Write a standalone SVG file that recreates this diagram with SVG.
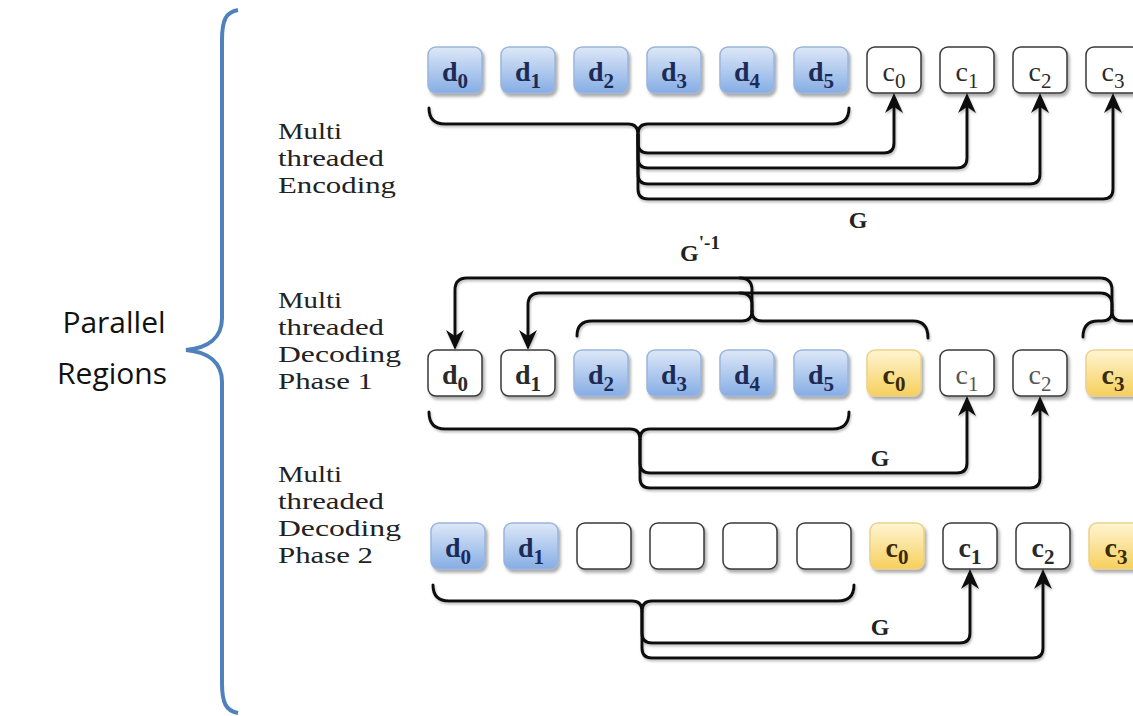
<svg xmlns="http://www.w3.org/2000/svg" width="1133" height="716" viewBox="0 0 1133 716">
  <defs>
    <linearGradient id="blueFill" x1="0" y1="0" x2="0" y2="1">
      <stop offset="0" stop-color="#dde8f7"/>
      <stop offset="1" stop-color="#86ade5"/>
    </linearGradient>
    <linearGradient id="yellowFill" x1="0" y1="0" x2="0" y2="1">
      <stop offset="0" stop-color="#fff5d2"/>
      <stop offset="1" stop-color="#f6cf5c"/>
    </linearGradient>
    <filter id="boxShadow" x="-20%" y="-20%" width="150%" height="160%">
      <feDropShadow dx="2" dy="3" stdDeviation="1.5" flood-color="#444" flood-opacity="0.45"/>
    </filter>
    <filter id="lineShadow" x="-5%" y="-5%" width="110%" height="120%">
      <feDropShadow dx="1" dy="2" stdDeviation="1" flood-color="#777" flood-opacity="0.45"/>
    </filter>
    <marker id="arrow" viewBox="0 0 20 20" refX="13" refY="10" markerWidth="20" markerHeight="20" markerUnits="userSpaceOnUse" orient="auto">
      <path d="M20,10 L0,1 L6,10 L0,19 Z" fill="#111"/>
    </marker>
  </defs>
  <style>
    .box { stroke-width: 1.5; filter: url(#boxShadow); }
    .blue { fill: url(#blueFill); stroke: #9ab5dc; }
    .yellow { fill: url(#yellowFill); stroke: #ecd18a; }
    .white { fill: #ffffff; stroke: #3a3a3a; }
    .lbl { font-family: "Liberation Serif", "Times New Roman", serif; font-size: 28px; text-anchor: middle; }
    .b { font-weight: bold; }
    .sub { font-size: 21px; }
    .tBlue { fill: #1c2b55; }
    .tYellow { fill: #3a2a05; }
    .tDark { fill: #2a2a2a; }
    .tGray { fill: #555555; }
    .wire { fill: none; stroke: #111; stroke-width: 3; stroke-linecap: round; stroke-linejoin: round; }
    .arr { marker-end: url(#arrow); stroke-linecap: butt; }
    .side { font-family: "Liberation Serif", "Times New Roman", serif; font-size: 24px; fill: #222; }
    .g { font-family: "Liberation Serif", "Times New Roman", serif; font-size: 24px; font-weight: bold; fill: #222; text-anchor: middle; }
    .big { font-family: "Open Sans", "Liberation Sans", sans-serif; font-size: 30px; fill: #111; text-anchor: middle; }
  </style>

  <!-- region brace and its caption -->
  <g id="parallel-regions">
    <path d="M238,10 C226,12 222,20 222,40 V318 C222,338 208,348 186,350 C208,352 222,362 222,382 V683 C222,703 226,711 238,713" fill="none" stroke="#4f81bd" stroke-width="4"/>
    <text class="big" x="114" y="333">Parallel</text>
    <text class="big" x="112" y="384">Regions</text>
  </g>

  <!-- row captions -->
  <g id="label-encoding">
    <text class="side" x="278" y="139" textLength="64" lengthAdjust="spacingAndGlyphs">Multi</text>
    <text class="side" x="278" y="166" textLength="106" lengthAdjust="spacingAndGlyphs">threaded</text>
    <text class="side" x="278" y="193" textLength="118" lengthAdjust="spacingAndGlyphs">Encoding</text>
  </g>
  <g id="label-decoding-1">
    <text class="side" x="278" y="308" textLength="64" lengthAdjust="spacingAndGlyphs">Multi</text>
    <text class="side" x="278" y="335" textLength="106" lengthAdjust="spacingAndGlyphs">threaded</text>
    <text class="side" x="278" y="362" textLength="123" lengthAdjust="spacingAndGlyphs">Decoding</text>
    <text class="side" x="278" y="389" textLength="95" lengthAdjust="spacingAndGlyphs">Phase 1</text>
  </g>
  <g id="label-decoding-2">
    <text class="side" x="278" y="482" textLength="64" lengthAdjust="spacingAndGlyphs">Multi</text>
    <text class="side" x="278" y="509" textLength="106" lengthAdjust="spacingAndGlyphs">threaded</text>
    <text class="side" x="278" y="536" textLength="123" lengthAdjust="spacingAndGlyphs">Decoding</text>
    <text class="side" x="278" y="563" textLength="95" lengthAdjust="spacingAndGlyphs">Phase 2</text>
  </g>

  <!-- row 1: encoding (y = 47) -->
  <g id="enc-d0"><rect class="box blue" x="428" y="47" width="54" height="46" rx="8"/><text class="lbl b tBlue" x="455" y="81">d<tspan class="sub" dy="7">0</tspan></text></g>
  <g id="enc-d1"><rect class="box blue" x="501" y="47" width="54" height="46" rx="8"/><text class="lbl b tBlue" x="528" y="81">d<tspan class="sub" dy="7">1</tspan></text></g>
  <g id="enc-d2"><rect class="box blue" x="574" y="47" width="54" height="46" rx="8"/><text class="lbl b tBlue" x="601" y="81">d<tspan class="sub" dy="7">2</tspan></text></g>
  <g id="enc-d3"><rect class="box blue" x="647" y="47" width="54" height="46" rx="8"/><text class="lbl b tBlue" x="674" y="81">d<tspan class="sub" dy="7">3</tspan></text></g>
  <g id="enc-d4"><rect class="box blue" x="720" y="47" width="54" height="46" rx="8"/><text class="lbl b tBlue" x="747" y="81">d<tspan class="sub" dy="7">4</tspan></text></g>
  <g id="enc-d5"><rect class="box blue" x="794" y="47" width="54" height="46" rx="8"/><text class="lbl b tBlue" x="821" y="81">d<tspan class="sub" dy="7">5</tspan></text></g>
  <g id="enc-c0"><rect class="box white" x="867" y="47" width="54" height="46" rx="8"/><text class="lbl tDark" x="894" y="81">c<tspan class="sub" dy="7">0</tspan></text></g>
  <g id="enc-c1"><rect class="box white" x="940" y="47" width="54" height="46" rx="8"/><text class="lbl tDark" x="967" y="81">c<tspan class="sub" dy="7">1</tspan></text></g>
  <g id="enc-c2"><rect class="box white" x="1013" y="47" width="54" height="46" rx="8"/><text class="lbl tDark" x="1040" y="81">c<tspan class="sub" dy="7">2</tspan></text></g>
  <g id="enc-c3"><rect class="box white" x="1086" y="47" width="54" height="46" rx="8"/><text class="lbl tDark" x="1113" y="81">c<tspan class="sub" dy="7">3</tspan></text></g>

  <!-- row 2: decoding phase 1 (y = 350) -->
  <g id="dec1-d0"><rect class="box white" x="428" y="350" width="54" height="46" rx="8"/><text class="lbl b tDark" x="455" y="384">d<tspan class="sub" dy="7">0</tspan></text></g>
  <g id="dec1-d1"><rect class="box white" x="501" y="350" width="54" height="46" rx="8"/><text class="lbl b tDark" x="528" y="384">d<tspan class="sub" dy="7">1</tspan></text></g>
  <g id="dec1-d2"><rect class="box blue" x="574" y="350" width="54" height="46" rx="8"/><text class="lbl b tBlue" x="601" y="384">d<tspan class="sub" dy="7">2</tspan></text></g>
  <g id="dec1-d3"><rect class="box blue" x="647" y="350" width="54" height="46" rx="8"/><text class="lbl b tBlue" x="674" y="384">d<tspan class="sub" dy="7">3</tspan></text></g>
  <g id="dec1-d4"><rect class="box blue" x="720" y="350" width="54" height="46" rx="8"/><text class="lbl b tBlue" x="747" y="384">d<tspan class="sub" dy="7">4</tspan></text></g>
  <g id="dec1-d5"><rect class="box blue" x="794" y="350" width="54" height="46" rx="8"/><text class="lbl b tBlue" x="821" y="384">d<tspan class="sub" dy="7">5</tspan></text></g>
  <g id="dec1-c0"><rect class="box yellow" x="867" y="350" width="54" height="46" rx="8"/><text class="lbl b tYellow" x="894" y="384">c<tspan class="sub" dy="7">0</tspan></text></g>
  <g id="dec1-c1"><rect class="box white" x="940" y="350" width="54" height="46" rx="8"/><text class="lbl tGray" x="967" y="384">c<tspan class="sub" dy="7">1</tspan></text></g>
  <g id="dec1-c2"><rect class="box white" x="1013" y="350" width="54" height="46" rx="8"/><text class="lbl tGray" x="1040" y="384">c<tspan class="sub" dy="7">2</tspan></text></g>
  <g id="dec1-c3"><rect class="box yellow" x="1086" y="350" width="54" height="46" rx="8"/><text class="lbl b tYellow" x="1113" y="384">c<tspan class="sub" dy="7">3</tspan></text></g>

  <!-- row 3: decoding phase 2 (y = 523) -->
  <g id="dec2-d0"><rect class="box blue" x="431" y="523" width="54" height="46" rx="8"/><text class="lbl b tBlue" x="458" y="557">d<tspan class="sub" dy="7">0</tspan></text></g>
  <g id="dec2-d1"><rect class="box blue" x="504" y="523" width="54" height="46" rx="8"/><text class="lbl b tBlue" x="531" y="557">d<tspan class="sub" dy="7">1</tspan></text></g>
  <g id="dec2-e2"><rect class="box white" x="577" y="523" width="54" height="46" rx="8"/></g>
  <g id="dec2-e3"><rect class="box white" x="650" y="523" width="54" height="46" rx="8"/></g>
  <g id="dec2-e4"><rect class="box white" x="723" y="523" width="54" height="46" rx="8"/></g>
  <g id="dec2-e5"><rect class="box white" x="797" y="523" width="54" height="46" rx="8"/></g>
  <g id="dec2-c0"><rect class="box yellow" x="870" y="523" width="54" height="46" rx="8"/><text class="lbl b tYellow" x="897" y="557">c<tspan class="sub" dy="7">0</tspan></text></g>
  <g id="dec2-c1"><rect class="box white" x="943" y="523" width="54" height="46" rx="8"/><text class="lbl b tDark" x="970" y="557">c<tspan class="sub" dy="7">1</tspan></text></g>
  <g id="dec2-c2"><rect class="box white" x="1016" y="523" width="54" height="46" rx="8"/><text class="lbl b tDark" x="1043" y="557">c<tspan class="sub" dy="7">2</tspan></text></g>
  <g id="dec2-c3"><rect class="box yellow" x="1089" y="523" width="54" height="46" rx="8"/><text class="lbl b tYellow" x="1116" y="557">c<tspan class="sub" dy="7">3</tspan></text></g>

  <!-- connectors -->
  <g id="connectors" filter="url(#lineShadow)">
    <!-- encoding: brace under d0..d5 feeding every parity box -->
    <path class="wire" d="M429,108 Q429,124 445,124 H628 Q638,124 638,134"/>
    <path class="wire" d="M849,108 Q849,124 833,124 H648 Q638,124 638,134"/>
    <path class="wire arr" d="M638,134 V143 Q638,153 648,153 H884 Q894,153 894,143 V100"/>
    <path class="wire arr" d="M638,134 V158 Q638,168 648,168 H957 Q967,168 967,158 V100"/>
    <path class="wire arr" d="M638,134 V174 Q638,184 648,184 H1030 Q1040,184 1040,174 V100"/>
    <path class="wire arr" d="M638,134 V189 Q638,199 648,199 H1103 Q1113,199 1113,189 V100"/>

    <!-- phase 1: inverse recovers d0 and d1 from the surviving boxes -->
    <path class="wire" d="M577,336 Q577,321 592,321 H742 Q752,321 752,311"/>
    <path class="wire" d="M928,338 Q928,321 913,321 H762 Q752,321 752,311"/>
    <path class="wire" d="M752,311 V290 Q752,278 740,278"/>
    <path class="wire" d="M752,311 V305 Q752,293 740,293"/>
    <path class="wire" d="M1083,337 Q1083,321 1098,321 H1102 Q1112,321 1112,311"/>
    <path class="wire" d="M1150,337 Q1150,321 1135,321 H1122 Q1112,321 1112,311"/>
    <path class="wire arr" d="M1112,311 V290 Q1112,278 1100,278 H467 Q455,278 455,290 V343"/>
    <path class="wire arr" d="M1112,311 V305 Q1112,293 1100,293 H540 Q528,293 528,305 V343"/>

    <!-- phase 1: re-encode c1 and c2 -->
    <path class="wire" d="M429,412 Q429,429 445,429 H630 Q640,429 640,439"/>
    <path class="wire" d="M849,412 Q849,429 833,429 H650 Q640,429 640,439"/>
    <path class="wire arr" d="M640,439 V463 Q640,473 650,473 H957 Q967,473 967,463 V403"/>
    <path class="wire arr" d="M640,439 V478 Q640,488 650,488 H1030 Q1040,488 1040,478 V403"/>

    <!-- phase 2: re-encode c1 and c2 -->
    <path class="wire" d="M433,585 Q433,601 449,601 H632 Q642,601 642,611"/>
    <path class="wire" d="M854,585 Q854,601 838,601 H652 Q642,601 642,611"/>
    <path class="wire arr" d="M642,611 V633 Q642,643 652,643 H960 Q970,643 970,633 V576"/>
    <path class="wire arr" d="M642,611 V648 Q642,658 652,658 H1033 Q1043,658 1043,648 V576"/>
  </g>

  <!-- matrix labels -->
  <text class="g" x="858" y="228">G</text>
  <text class="g" x="700" y="261">G<tspan font-size="19" dy="-12">'-1</tspan></text>
  <text class="g" x="880" y="466">G</text>
  <text class="g" x="880" y="635">G</text>
</svg>
